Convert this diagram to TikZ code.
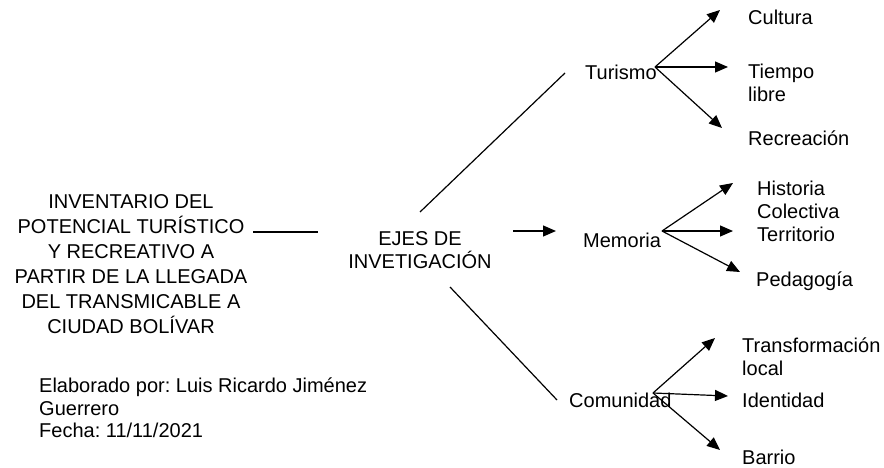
\documentclass[tikz,border=0pt]{standalone}
\usepackage{fontspec}
\setmainfont{Liberation Sans}
\usetikzlibrary{arrows.meta}
\begin{document}
\frenchspacing
\begin{tikzpicture}[x=1pt,y=-1pt,
  lbl/.style={inner sep=0pt,font=\fontsize{20}{23}\selectfont},
  conn/.style={line width=1.2pt},
  arr/.style={line width=1.2pt,-{Triangle[length=13pt,width=11pt]}}]
\useasboundingbox (0,0) rectangle (884,468);
% texts
\node[lbl,align=center,font=\fontsize{20}{25}\selectfont] (inv) at (131,264.2)
  {INVENTARIO DEL\\POTENCIAL TURÍSTICO\\Y RECREATIVO A\\PARTIR DE LA LLEGADA\\DEL TRANSMICABLE A\\CIUDAD BOLÍVAR};
\node[lbl,align=center] (ejes) at (420,250.5) {EJES DE\\INVETIGACIÓN};
\node[lbl,anchor=base west] (tur) at (585,80) {Turismo};
\node[lbl,anchor=base west] (cul) at (748,25) {Cultura};
\node[lbl,anchor=north west,align=left] (tie) at (748,64) {Tiempo\\libre};
\node[lbl,anchor=base west] (rec) at (748,146) {Recreación};
\node[lbl,anchor=base west] (mem) at (583,247) {Memoria};
\node[lbl,anchor=north west,align=left] (his) at (757,181) {Historia\\Colectiva};
\node[lbl,anchor=base west] (ter) at (757,241) {Territorio};
\node[lbl,anchor=base west] (ped) at (756,286) {Pedagogía};
\node[lbl,anchor=base west] (com) at (569,407) {Comunidad};
\node[lbl,anchor=north west,align=left] (tra) at (742,338) {Transformación\\local};
\node[lbl,anchor=base west] (ide) at (742,407) {Identidad};
\node[lbl,anchor=base west] (bar) at (742,464) {Barrio};
\node[lbl,anchor=north west,align=left,font=\fontsize{20}{22.5}\selectfont] (foot) at (39,378)
  {Elaborado por: Luis Ricardo Jiménez\\Guerrero\\Fecha: 11/11/2021};
% connector end points
\coordinate (invR) at (253,232);
\coordinate (ejesL) at (318,232);
\coordinate (ejesU) at (420,212);
\coordinate (turL) at (565,73);
\coordinate (ejesD) at (450,287);
\coordinate (comL) at (557,400);
\coordinate (ejesR) at (513,231);
\coordinate (memL) at (556,231);
\coordinate (turO) at (655,67);
\coordinate (culT) at (720,10);
\coordinate (tieT) at (728,67);
\coordinate (recT) at (722,128);
\coordinate (memO) at (662,231);
\coordinate (hisT) at (733,183);
\coordinate (terT) at (733,231);
\coordinate (pedT) at (740,272);
\coordinate (comO) at (653,393);
\coordinate (traT) at (715,338);
\coordinate (ideT) at (728,396);
\coordinate (barT) at (720,450);
% connectors
\draw[conn] (invR) -- (ejesL);
\draw[conn] (ejesU) -- (turL);
\draw[conn] (ejesD) -- (comL);
\draw[arr] (ejesR) -- (memL);
\draw[arr] (turO) -- (culT);
\draw[arr] (turO) -- (tieT);
\draw[arr] (turO) -- (recT);
\draw[arr] (memO) -- (hisT);
\draw[arr] (memO) -- (terT);
\draw[arr] (memO) -- (pedT);
\draw[arr] (comO) -- (traT);
\draw[arr] (comO) -- (ideT);
\draw[arr] (comO) -- (barT);
\end{tikzpicture}
\end{document}
